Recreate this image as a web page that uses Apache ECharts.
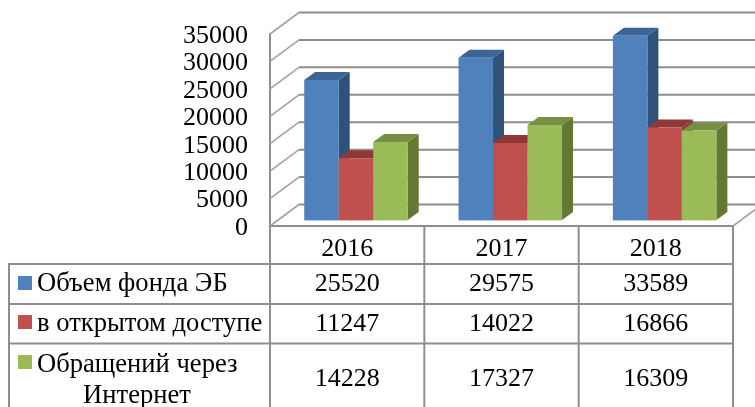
<!DOCTYPE html>
<html>
<head>
<meta charset="utf-8">
<style>
  html, body { margin: 0; padding: 0; background: #fff; }
  #chart { width: 755px; height: 407px; }
</style>
<script src="https://cdn.jsdelivr.net/npm/echarts@6/dist/echarts.min.js"></script>
</head>
<body>
<div id="chart"></div>
<script>
const years = ['2016', '2017', '2018']
const fondValues = [25520, 29575, 33589]
const openValues = [11247, 14022, 16866]
const requestValues = [14228, 17327, 16309]
const yTicks = [0, 5000, 10000, 15000, 20000, 25000, 30000, 35000]

const serif = '"Liberation Serif", "Times New Roman", serif'
const numFont = '26px ' + serif
const textFont = '26.6px ' + serif
const lineColor = '#8e8e8e'

// сдвиг задней стенки и плоскости столбцов относительно передней
const wallDx = 29
const wallDy = -21.5
const barDx = 8.8
const barDy = -6
const depthDx = 11
const depthDy = -8
const barWidth = 34.5

function wallRender(params, api) {
  const p = api.coord([0, api.value(0)])
  const left = api.coord([0, 0])[0] - api.size([1, 0])[0] / 2
  const bx = left + wallDx
  const by = p[1] + wallDy
  return {
    type: 'group',
    children: [
      { type: 'line', shape: { x1: left, y1: p[1], x2: bx, y2: by }, style: { stroke: '#a2a2a2', lineWidth: 1.6 } },
      { type: 'line', shape: { x1: bx, y1: by, x2: 780, y2: by }, style: { stroke: lineColor, lineWidth: 2 } }
    ]
  }
}

function barRender(index, front, top, side, edge) {
  return function (params, api) {
    const cat = api.value(0)
    const base = api.coord([cat, 0])
    const head = api.coord([cat, api.value(1)])
    const x = base[0] + barDx + (index - 1.5) * barWidth
    const y0 = base[1] + barDy
    const y1 = head[1] + barDy
    const x2 = x + barWidth
    return {
      type: 'group',
      children: [
        { type: 'polygon', shape: { points: [[x2, y0], [x2 + depthDx, y0 + depthDy], [x2 + depthDx, y1 + depthDy], [x2, y1]] }, style: { fill: side } },
        { type: 'polygon', shape: { points: [[x, y1], [x + depthDx, y1 + depthDy], [x2 + depthDx, y1 + depthDy], [x2, y1]] }, style: { fill: top } },
        { type: 'rect', shape: { x: x, y: y1, width: barWidth, height: y0 - y1 }, style: { fill: front } },
        { type: 'line', shape: { x1: x, y1: y0 + 0.5, x2: x2, y2: y0 + 0.5 }, style: { stroke: edge, lineWidth: 1 } }
      ]
    }
  }
}

const rowCenters = [284, 324, 379]

function tableRender(params, api) {
  const cat = api.value(0)
  const p = api.coord([cat, 0])
  const halfBand = api.size([1, 0])[0] / 2
  const children = [
    { type: 'line', shape: { x1: p[0] + halfBand, y1: p[1], x2: p[0] + halfBand, y2: 407 }, style: { stroke: lineColor, lineWidth: 2 } }
  ]
  rowCenters.forEach((y, i) => {
    children.push({
      type: 'text',
      style: { text: String(api.value(i + 1)), x: p[0], y: y, fill: '#000', font: numFont, align: 'center', verticalAlign: 'middle' }
    })
  })
  return { type: 'group', children: children }
}

const tableData = years.map((y, i) => [i, fondValues[i], openValues[i], requestValues[i]])

function hLine(x1, x2, y) {
  return { type: 'line', shape: { x1: x1, y1: y, x2: x2, y2: y }, style: { stroke: lineColor, lineWidth: 2 }, z: 5 }
}
function legendKey(y, color) {
  return { type: 'rect', shape: { x: 18, y: y, width: 14, height: 14 }, style: { fill: color }, z: 5 }
}
function label(text, x, y, align) {
  return { type: 'text', style: { text: text, x: x, y: y, fill: '#000', font: textFont, align: align || 'left', verticalAlign: 'middle' }, z: 5 }
}

const option = {
  animation: false,
  backgroundColor: '#fff',
  grid: { left: 270, top: 34, width: 463, height: 192, containLabel: false },
  xAxis: {
    type: 'category',
    data: years,
    axisTick: { show: false },
    axisLine: { lineStyle: { color: lineColor, width: 2 } },
    axisLabel: { margin: 10, color: '#000', fontFamily: serif, fontSize: 26 }
  },
  yAxis: {
    type: 'value',
    min: 0,
    max: 35000,
    interval: 5000,
    splitLine: { show: false },
    axisTick: { show: false },
    axisLine: { show: true, lineStyle: { color: lineColor, width: 2 } },
    axisLabel: {
      margin: 22,
      color: '#000',
      formatter: v => '{tick|' + v + '}',
      rich: { tick: { color: '#000', fontFamily: serif, fontSize: 26, padding: [4, 0, 0, 0] } }
    }
  },
  graphic: [
    hLine(9, 733, 264),
    hLine(9, 733, 304),
    hLine(9, 733, 343.5),
    { type: 'line', shape: { x1: 9, y1: 263, x2: 9, y2: 407 }, style: { stroke: lineColor, lineWidth: 2 }, z: 5 },
    { type: 'line', shape: { x1: 270, y1: 226, x2: 270, y2: 407 }, style: { stroke: lineColor, lineWidth: 2 }, z: 5 },
    { type: 'line', shape: { x1: 733, y1: 226, x2: 762, y2: 204.5 }, style: { stroke: '#a2a2a2', lineWidth: 1.6 }, z: 5 },
    legendKey(276, '#4f81bd'),
    legendKey(315, '#c0504d'),
    legendKey(355, '#9bbb59'),
    label('Объем фонда ЭБ', 37, 284),
    label('в открытом доступе', 37, 324),
    label('Обращений через', 37, 365),
    label('Интернет', 137, 396, 'center')
  ],
  series: [
    {
      name: 'стенки',
      type: 'custom',
      z: 1,
      silent: true,
      renderItem: wallRender,
      encode: { x: -1, y: 0 },
      data: yTicks.map(v => [v])
    },
    {
      name: 'Объем фонда ЭБ',
      type: 'custom',
      z: 2,
      renderItem: barRender(0, '#4f81bd', '#3c6494', '#2f5279', '#b5cbe6'),
      encode: { x: 0, y: 1 },
      data: fondValues.map((v, i) => [i, v])
    },
    {
      name: 'в открытом доступе',
      type: 'custom',
      z: 3,
      renderItem: barRender(1, '#c0504d', '#8f3836', '#8f3836', '#e8b6b4'),
      encode: { x: 0, y: 1 },
      data: openValues.map((v, i) => [i, v])
    },
    {
      name: 'Обращений через Интернет',
      type: 'custom',
      z: 4,
      renderItem: barRender(2, '#9bbb59', '#768f43', '#647834', '#d8e4bc'),
      encode: { x: 0, y: 1 },
      data: requestValues.map((v, i) => [i, v])
    },
    {
      name: 'таблица',
      type: 'custom',
      z: 5,
      silent: true,
      renderItem: tableRender,
      encode: { x: 0, y: -1 },
      data: tableData
    }
  ]
}

const myChart = echarts.init(document.getElementById('chart'))
myChart.setOption(option)
</script>
</body>
</html>
